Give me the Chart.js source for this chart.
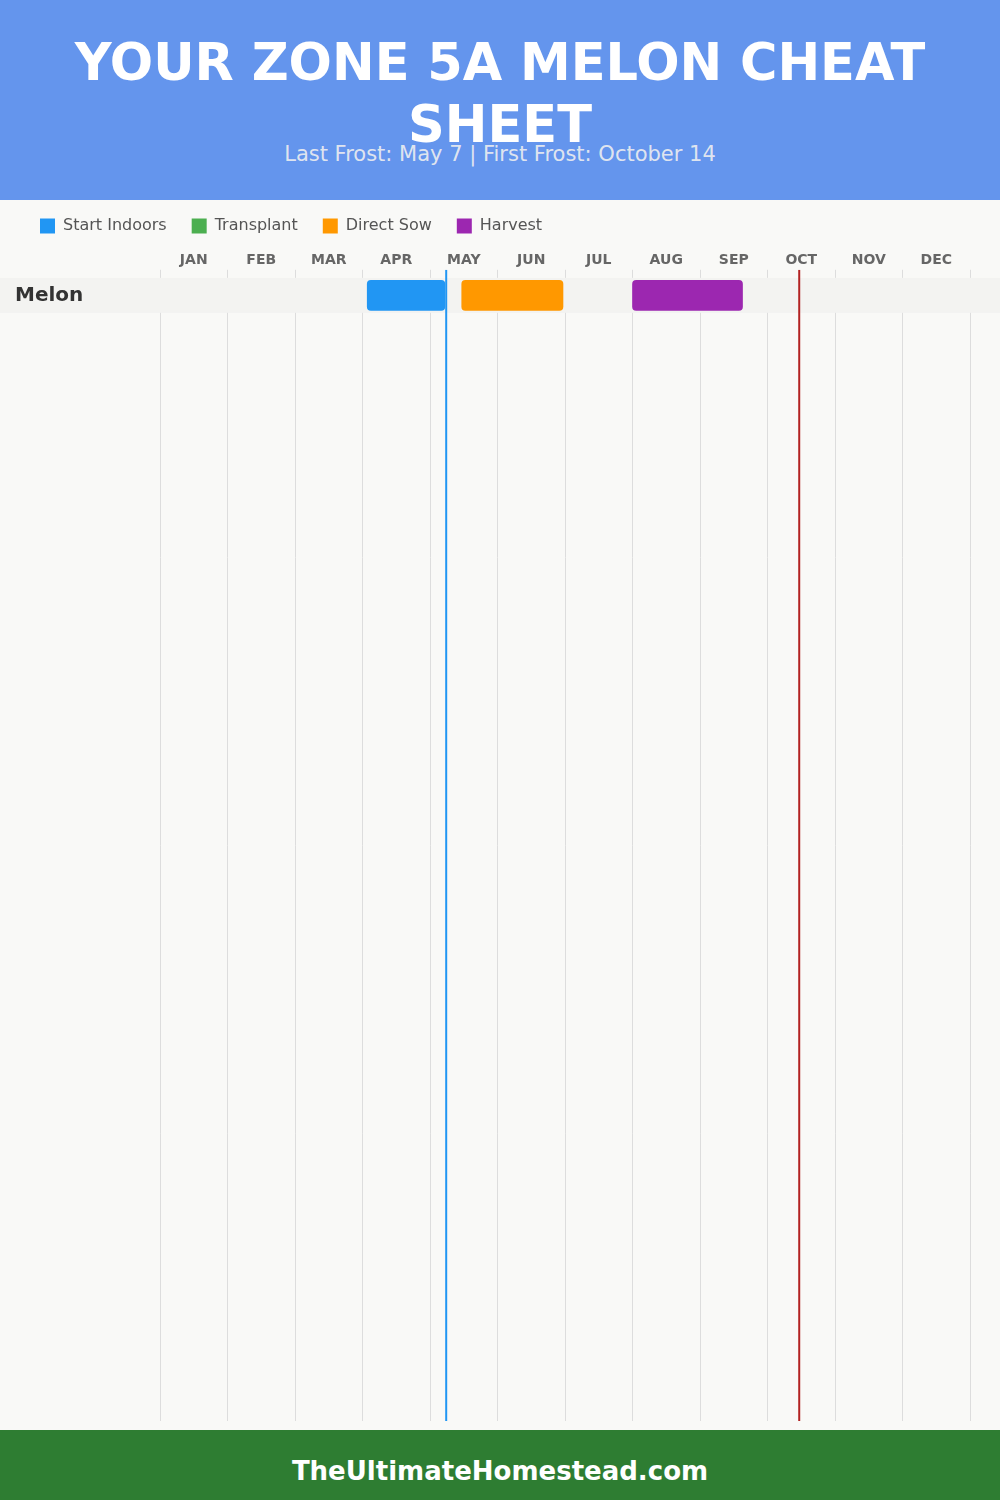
<!DOCTYPE html>
<html>
<head>
<meta charset="utf-8">
<script src="https://cdn.jsdelivr.net/npm/chart.js@4"></script>
<style>
  body { margin: 0; background: #f9f9f7; font-family: 'DejaVu Sans', sans-serif; }
  .header { position: relative; height: 200px; background: #6495ed; overflow: visible; }
  .header h1 { position: absolute; top: 32px; left: 0; width: 100%; box-sizing: border-box; padding: 0 20px;
    margin: 0; text-align: center; color: #fff; font-size: 51px; line-height: 62px; font-weight: bold; }
  .header .sub { position: absolute; top: 142px; left: 0; width: 100%; text-align: center;
    color: rgba(240, 240, 240, 0.9); font-size: 21px; line-height: 24px; }
  .chart-box { position: relative; width: 1000px; height: 1230px; }
  .footer { height: 70px; background: #2e7d32; color: #fff; text-align: center;
    font-size: 26px; font-weight: bold; line-height: 82px; }
</style>
</head>
<body>
<div class="header">
  <h1>YOUR ZONE 5A MELON CHEAT SHEET</h1>
  <div class="sub">Last Frost: May 7 | First Frost: October 14</div>
</div>
<div class="chart-box"><canvas id="calendarChart"></canvas></div>
<div class="footer">TheUltimateHomestead.com</div>
<script>
// Date (luna + zi/30, ianuarie = 0)
const months = ['JAN', 'FEB', 'MAR', 'APR', 'MAY', 'JUN', 'JUL', 'AUG', 'SEP', 'OCT', 'NOV', 'DEC'];
const crops = ['Melon'];
const activities = ['Start Indoors', 'Transplant', 'Direct Sow', 'Harvest'];
const activityColors = ['#2196f3', '#4caf50', '#ff9800', '#9c27b0'];
const startIndoors = [[3.07, 4.22]];   // Apr 2 - May 7
const transplant = [null];
const directSow = [[4.47, 5.97]];      // May 14 - Jun 29
const harvest = [[7.0, 8.63]];         // Aug 1 - Sep 19
const lastFrost = 4.24;                // May 7
const firstFrost = 9.47;               // Oct 14

const rowMin = -0.23;
const rowMax = 32.66;

function toBars(ranges) {
    return ranges.map((r, i) => r ? { x: r, y: i + 0.5 } : null).filter(Boolean);
}

const activityData = [startIndoors, transplant, directSow, harvest];

// Banda gri pentru fiecare rând
const rowBand = {
    id: 'rowBand',
    beforeDatasetsDraw(chart) {
        const ctx = chart.ctx;
        const y = chart.scales.y;
        ctx.save();
        ctx.fillStyle = '#f3f3f1';
        crops.forEach((c, i) => {
            const top = y.getPixelForValue(i);
            const bottom = y.getPixelForValue(i + 1);
            ctx.fillRect(0, top, chart.width, bottom - top);
        });
        ctx.restore();
    }
};

function createCalendarChart() {
    const ctx = document.getElementById('calendarChart').getContext('2d');
    Chart.defaults.font.family = "'DejaVu Sans', sans-serif";

    const datasets = activities.map((name, i) => ({
        type: 'bar',
        label: name,
        data: toBars(activityData[i]),
        backgroundColor: activityColors[i],
        borderColor: activityColors[i],
        borderRadius: 4,
        borderSkipped: false,
        barThickness: 30,
        grouped: false
    }));

    datasets.push({
        type: 'line',
        label: 'Last Frost',
        data: [{ x: lastFrost, y: rowMin }, { x: lastFrost, y: rowMax }],
        borderColor: '#2196f3',
        borderWidth: 2,
        pointRadius: 0
    }, {
        type: 'line',
        label: 'First Frost',
        data: [{ x: firstFrost, y: rowMin }, { x: firstFrost, y: rowMax }],
        borderColor: '#b22222',
        borderWidth: 2,
        pointRadius: 0
    });

    new Chart(ctx, {
        type: 'bar',
        data: { datasets: datasets },
        plugins: [rowBand],
        options: {
            indexAxis: 'y',
            responsive: true,
            maintainAspectRatio: false,
            animation: false,
            layout: { padding: { left: 15, right: 30, top: -7, bottom: 9 } },
            plugins: {
                tooltip: { enabled: false },
                legend: {
                    position: 'top',
                    align: 'start',
                    labels: {
                        boxWidth: 15,
                        boxHeight: 15,
                        padding: 25,
                        color: '#555',
                        font: { size: 16 },
                        filter: (item) => item.datasetIndex < activities.length
                    }
                }
            },
            scales: {
                x: {
                    type: 'linear',
                    position: 'bottom',
                    min: 0,
                    max: 12,
                    ticks: { display: false, stepSize: 1 },
                    grid: { color: '#dddddd', lineWidth: 1, drawTicks: false },
                    border: { display: false }
                },
                x2: {
                    type: 'category',
                    position: 'top',
                    labels: months,
                    offset: true,
                    afterFit: (s) => { s.height += 7; },
                    grid: { display: false, drawTicks: false },
                    border: { display: false },
                    ticks: { color: '#666', font: { size: 14, weight: 'bold' }, padding: 1, maxRotation: 0 }
                },
                y: {
                    type: 'linear',
                    min: rowMin,
                    max: rowMax,
                    offset: false,
                    reverse: true,
                    afterBuildTicks: (s) => { s.ticks = crops.map((c, i) => ({ value: i + 0.5 })); },
                    afterFit: (s) => { s.width = 145; s.paddingTop = 0; s.paddingBottom = 0; },
                    grid: { display: false },
                    border: { display: false },
                    ticks: {
                        z: 1,
                        crossAlign: 'far',
                        color: '#333',
                        font: { size: 20, weight: 'bold' },
                        callback: (v, i) => crops[i]
                    }
                }
            }
        }
    });
}

document.addEventListener('DOMContentLoaded', function() {
    createCalendarChart();
});
</script>
</body>
</html>
